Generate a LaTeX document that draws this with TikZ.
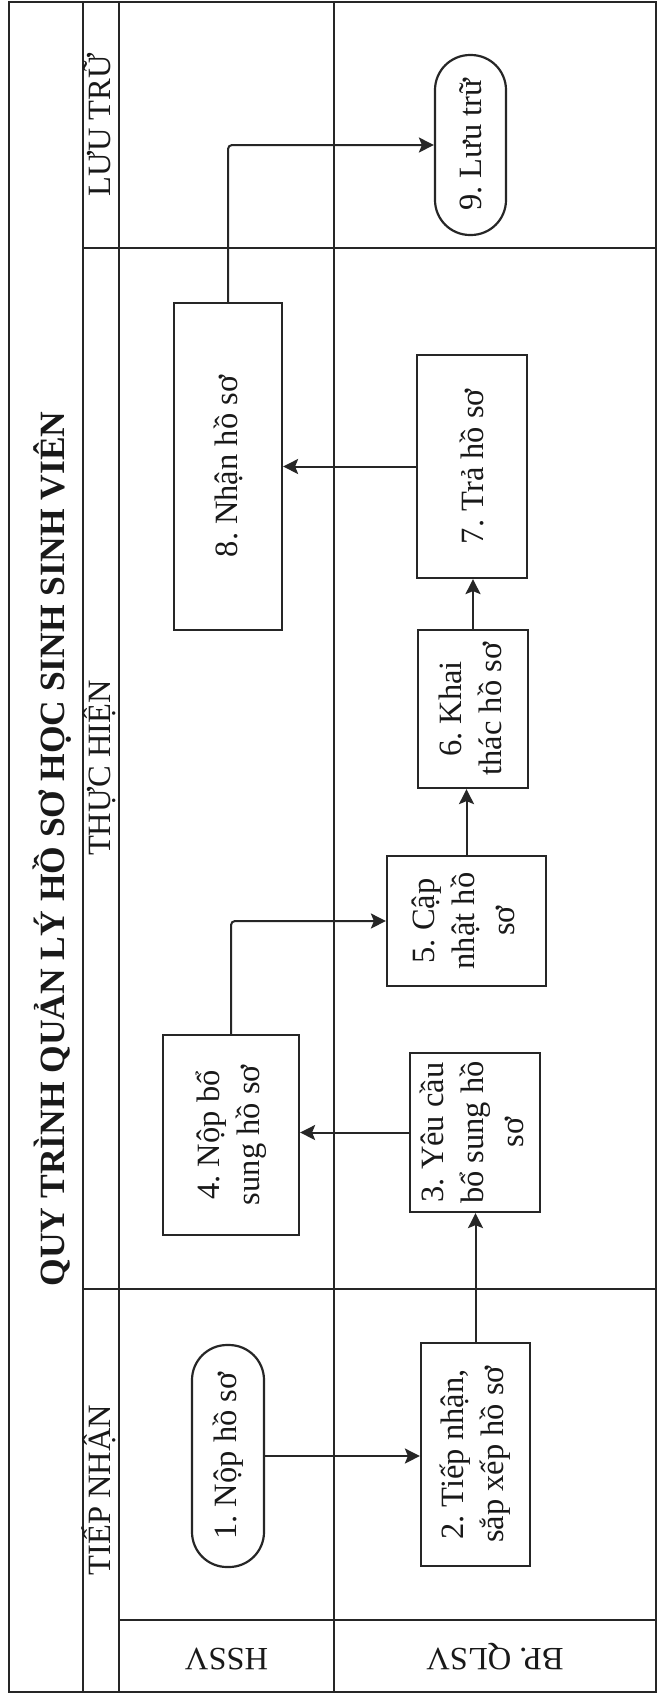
\documentclass[tikz,border=0pt]{standalone}
\usepackage{fontspec}
\setmainfont{Liberation Serif}
\usetikzlibrary{arrows.meta}
\frenchspacing
\newcommand\mybodyfont{\fontsize{32.5}{40}\selectfont\frenchspacing}
\newcommand\mytitlefont{\fontsize{35.5}{40}\selectfont\bfseries}
\begin{document}
\begin{tikzpicture}[x=1pt,y=-1pt,
  frameline/.style={line width=2pt, draw=black!85},
  procbox/.style={draw=black!85, line width=2.2pt, inner sep=0pt, fill=white, text=black!90, font=\mybodyfont},
  termbox/.style={procbox, rounded corners=35pt},
  hdrtext/.style={inner sep=0pt, text=black!90, font=\mybodyfont},
  titletext/.style={inner sep=0pt, text=black!90, font=\mytitlefont},
  arr/.style={draw=black!85, line width=2pt, -{Stealth[length=15pt,width=15pt,inset=3pt]}}
]
\useasboundingbox (0,0) rectangle (659,1695);
\fill[white] (0,0) rectangle (659,1695);

% frame and swimlane lines
\draw[frameline, line width=2.6pt] (9,2) rectangle (656,1692);
\draw[frameline] (82.5,2) -- (82.5,1692);
\draw[frameline] (119,2) -- (119,1692);
\draw[frameline] (334,2) -- (334,1692);
\draw[frameline] (82.5,248) -- (656,248);
\draw[frameline] (82.5,1289) -- (656,1289);
\draw[frameline] (119,1620) -- (656,1620);

% title and headers
\node[titletext, rotate=90, anchor=base] (title) at (64,849) {QUY TRÌNH QUẢN LÝ HỒ SƠ HỌC SINH SINH VIÊN};
\node[hdrtext, rotate=90, anchor=base] (hluu) at (110,125) {LƯU TRỮ};
\node[hdrtext, rotate=90, anchor=base] (hthuc) at (110,768) {THỰC HIỆN};
\node[hdrtext, rotate=90, anchor=base] (htiep) at (110,1490) {TIẾP NHẬN};
\node[hdrtext, rotate=180, anchor=base] (lhssv) at (226.5,1648) {HSSV};
\node[hdrtext, rotate=180, anchor=base] (lbp) at (495,1648) {BP. QLSV};

% process nodes
\node[termbox, minimum width=71pt, minimum height=180pt] (n9) at (470.5,145)
  {\rotatebox{90}{9. Lưu trữ}};
\node[procbox, minimum width=108pt, minimum height=327pt] (n8) at (228,466.5)
  {\rotatebox{90}{8. Nhận hồ sơ}};
\node[procbox, minimum width=110pt, minimum height=223pt] (n7) at (472,466.5)
  {\rotatebox{90}{7. Trả hồ sơ}};
\node[procbox, minimum width=110pt, minimum height=158pt] (n6) at (473,709)
  {\rotatebox{90}{\begin{tabular}{@{}c@{}}6. Khai\\thác hồ sơ\end{tabular}}};
\node[procbox, minimum width=159pt, minimum height=130pt] (n5) at (466.5,921)
  {\rotatebox{90}{\begin{tabular}{@{}c@{}}5. Cập\\nhật hồ\\sơ\end{tabular}}};
\node[procbox, minimum width=136pt, minimum height=200pt] (n4) at (231,1135)
  {\rotatebox{90}{\begin{tabular}{@{}c@{}}4. Nộp bổ\\sung hồ sơ\end{tabular}}};
\node[procbox, minimum width=130pt, minimum height=159pt] (n3) at (475,1132.5)
  {\rotatebox{90}{\begin{tabular}{@{}c@{}}3. Yêu cầu\\bổ sung hồ\\sơ\end{tabular}}};
\node[procbox, minimum width=109pt, minimum height=223pt] (n2) at (475.5,1454.5)
  {\rotatebox{90}{\begin{tabular}{@{}c@{}}2. Tiếp nhận,\\sắp xếp hồ sơ\end{tabular}}};
\node[termbox, minimum width=72pt, minimum height=222pt] (n1) at (228,1456)
  {\rotatebox{90}{1. Nộp hồ sơ}};

% connectors
\draw[arr] (n1.east) -- (n1.east -| n2.west);
\draw[arr] (n2.north) -- (n2.north |- n3.south);
\draw[arr] (n3.west) -- (n3.west -| n4.east);
\draw[arr, rounded corners=4pt] (n4.north) |- (n5.west);
\draw[arr] (n5.north) -- (n5.north |- n6.south);
\draw[arr] (n6.north) -- (n6.north |- n7.south);
\draw[arr] (n7.west) -- (n7.west -| n8.east);
\draw[arr, rounded corners=4pt] (n8.north) |- (n9.west);
\end{tikzpicture}
\end{document}
